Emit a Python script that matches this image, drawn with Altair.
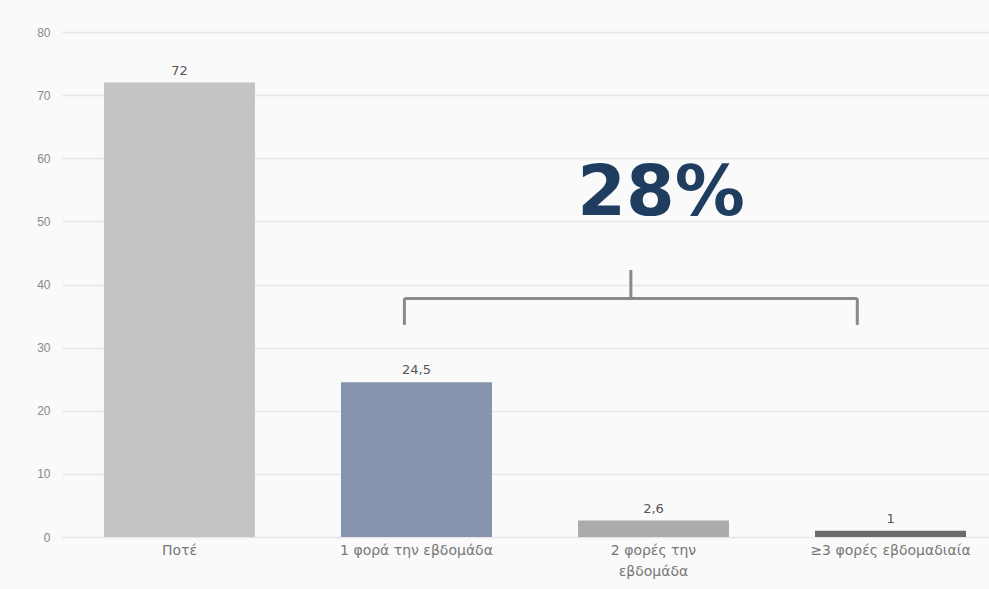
import altair as alt
import pandas as pd

categories = ["Ποτέ", "1 φορά την εβδομάδα", "2 φορές την εβδομάδα", "≥3 φορές εβδομαδιαία"]
values = [72, 24.5, 2.6, 1]
value_labels = ["72", "24,5", "2,6", "1"]
bar_colors = ["#c4c4c4", "#8893ae", "#ababab", "#6a6a6a"]
y_ticks = [0, 10, 20, 30, 40, 50, 60, 70, 80]
share_label = "28%"
bracket_level = 37.8
bracket_foot = 33.6
bracket_top = 42.3
share_level = 54.3

df = pd.DataFrame({"cat": categories, "val": values, "lab": value_labels, "col": bar_colors})

xscale = alt.Scale(domain=categories, paddingInner=0.363, paddingOuter=0.137, align=0.646)
xenc = alt.X("cat:N", sort=None, title=None, scale=xscale,
             axis=alt.Axis(labelAngle=0, labelFontSize=14, labelColor="#777", labelFont="DejaVu Sans",
                           domain=False, ticks=False, labelPadding=6, labelLineHeight=21, labelLimit=300,
                           labelExpr="datum.label == '2 φορές την εβδομάδα' ? ['2 φορές την', 'εβδομάδα'] : datum.label"))
yscale = alt.Scale(domain=[0, 80], nice=False)

def xf(field, bp=0.5):
    return alt.X(field, sort=None, scale=xscale, bandPosition=bp)

bars = alt.Chart(df).mark_bar().encode(
    x=xenc,
    y=alt.Y("val:Q", scale=yscale, title=None,
            axis=alt.Axis(values=y_ticks, labelFontSize=12, labelColor="#888", domain=False, ticks=False,
                          gridColor="#e6e6e6", gridWidth=1.5, labelPadding=12)),
    color=alt.Color("col:N", scale=None),
)

labels = alt.Chart(df).mark_text(dy=-12, fontSize=13, color="#555", font="DejaVu Sans").encode(
    x=xf("cat:N"), y=alt.Y("val:Q", scale=yscale), text="lab:N"
)

bdf = pd.DataFrame({"a": [categories[1]], "b": [categories[3]], "m": [categories[2]],
                    "lvl": [bracket_level], "foot": [bracket_foot], "top": [bracket_top],
                    "share": [share_level], "txt": [share_label]})

BP_L, BP_R, BP_M = 0.42, 0.28, 0.35

hline = alt.Chart(bdf).mark_rule(color="#8a8a8a", strokeWidth=3).encode(
    x=xf("a:N", BP_L), x2=alt.X2("b:N", bandPosition=BP_R), y=alt.Y("lvl:Q", scale=yscale))
left = alt.Chart(bdf).mark_rule(color="#8a8a8a", strokeWidth=3).encode(
    x=xf("a:N", BP_L), y=alt.Y("foot:Q", scale=yscale), y2="lvl:Q")
right = alt.Chart(bdf).mark_rule(color="#8a8a8a", strokeWidth=3).encode(
    x=xf("b:N", BP_R), y=alt.Y("foot:Q", scale=yscale), y2="lvl:Q")
mid = alt.Chart(bdf).mark_rule(color="#8a8a8a", strokeWidth=3).encode(
    x=xf("m:N", BP_M), y=alt.Y("lvl:Q", scale=yscale), y2="top:Q")
share = alt.Chart(bdf).mark_text(fontSize=70, fontWeight="bold", color="#1f3d5f", font="DejaVu Sans",
                                 baseline="middle").encode(
    x=xf("m:N", 0.55), y=alt.Y("share:Q", scale=yscale), text="txt:N")

chart = alt.layer(bars, labels, hline, left, right, mid, share).properties(
    width=927, height=505,
    autosize=alt.AutoSizeParams(type="none"),
    padding={"left": 62, "top": 32, "right": 0, "bottom": 52},
    background="#fafafa",
).configure_view(stroke=None)

chart.save("out.html", embed_options={"renderer": "svg", "actions": False})
